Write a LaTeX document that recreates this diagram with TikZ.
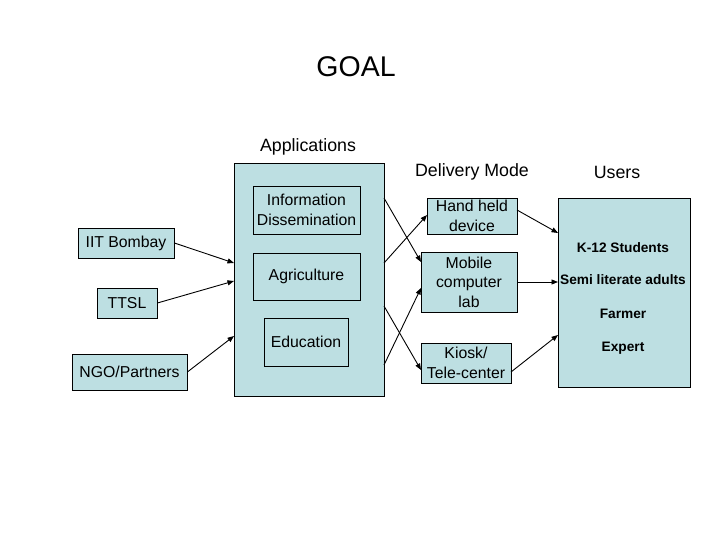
\documentclass[tikz,border=0pt]{standalone}
\usepackage{fontspec}
\setmainfont{Liberation Sans}
\usetikzlibrary{arrows.meta}
\definecolor{boxfill}{RGB}{189,223,226}
\begin{document}
\begin{tikzpicture}[x=1pt,y=-1pt,
  box/.style={draw=black,line width=0.8pt,fill=boxfill,inner sep=0pt,align=center,font=\fontsize{15.8}{19.5}\selectfont},
  hdr/.style={inner sep=0pt,font=\fontsize{17.8}{21}\selectfont},
  usr/.style={inner sep=0pt,font=\fontsize{13.7}{16}\selectfont\bfseries},
  arr/.style={line width=0.9pt,-{Triangle[length=6.5pt,width=5pt]}}]
\useasboundingbox[fill=white] (0,0) rectangle (720,540);
\node[inner sep=0pt,font=\fontsize{28.5}{33}\selectfont] (goal) at (356,67) {GOAL};
\node[hdr] (apphdr) at (308,147) {Applications};
\node[hdr] (delhdr) at (472,172) {Delivery Mode};
\node[hdr] (usrhdr) at (617,172) {Users};
% big boxes
\node[box,minimum width=150pt,minimum height=233pt] (app) at (309,279.5) {};
\node[box,minimum width=132pt,minimum height=189pt] (users) at (624,292.5) {};
% application boxes
\node[box,minimum width=107pt,minimum height=48pt] (info) at (306.5,210) {Information\\Dissemination};
\node[box,minimum width=107pt,minimum height=47pt] (agri) at (306.5,276.5) {Agriculture};
\node[box,minimum width=84pt,minimum height=48pt] (edu) at (306,342) {Education};
% partners
\node[box,minimum width=96pt,minimum height=30pt] (iit) at (126,243) {IIT Bombay};
\node[box,minimum width=60pt,minimum height=30pt] (ttsl) at (127,303) {TTSL};
\node[box,minimum width=115pt,minimum height=36pt] (ngo) at (129.5,372) {NGO/Partners};
% delivery
\node[box,minimum width=90pt,minimum height=36pt] (hand) at (472,216) {Hand held\\device};
\node[box,minimum width=96pt,minimum height=60pt] (mobile) at (469,282) {Mobile\\computer\\lab};
\node[box,minimum width=90pt,minimum height=40pt] (kiosk) at (466,363) {Kiosk/\\Tele-center};
% users text
\node[usr] (u1) at (623,248) {K-12 Students};
\node[usr] (u2) at (623,280) {Semi literate adults};
\node[usr] (u3) at (623,314) {Farmer};
\node[usr] (u4) at (623,348) {Expert};
% connection points
\coordinate (ain1) at (234,263);
\coordinate (ain2) at (234,281);
\coordinate (ain3) at (234,336);
\coordinate (aout1) at (384,198);
\coordinate (aout2) at (384,263);
\coordinate (aout3) at (384,306);
\coordinate (aout4) at (384,365);
\coordinate (hin) at (427,215);
\coordinate (min1) at (421,262);
\coordinate (min2) at (421,288);
\coordinate (kin) at (421,370);
\coordinate (hout) at (517,210);
\coordinate (kout) at (511,372);
\coordinate (uin1) at (558,233);
\coordinate (uin2) at (558,282);
\coordinate (uin3) at (558,335);
% arrows
\draw[arr] (iit.east) -- (ain1);
\draw[arr] (ttsl.east) -- (ain2);
\draw[arr] (ngo.east) -- (ain3);
\draw[arr] (aout1) -- (min1);
\draw[arr] (aout2) -- (hin);
\draw[arr] (aout3) -- (kin);
\draw[arr] (aout4) -- (min2);
\draw[arr] (hout) -- (uin1);
\draw[arr] (mobile.east) -- (uin2);
\draw[arr] (kout) -- (uin3);
\end{tikzpicture}
\end{document}
